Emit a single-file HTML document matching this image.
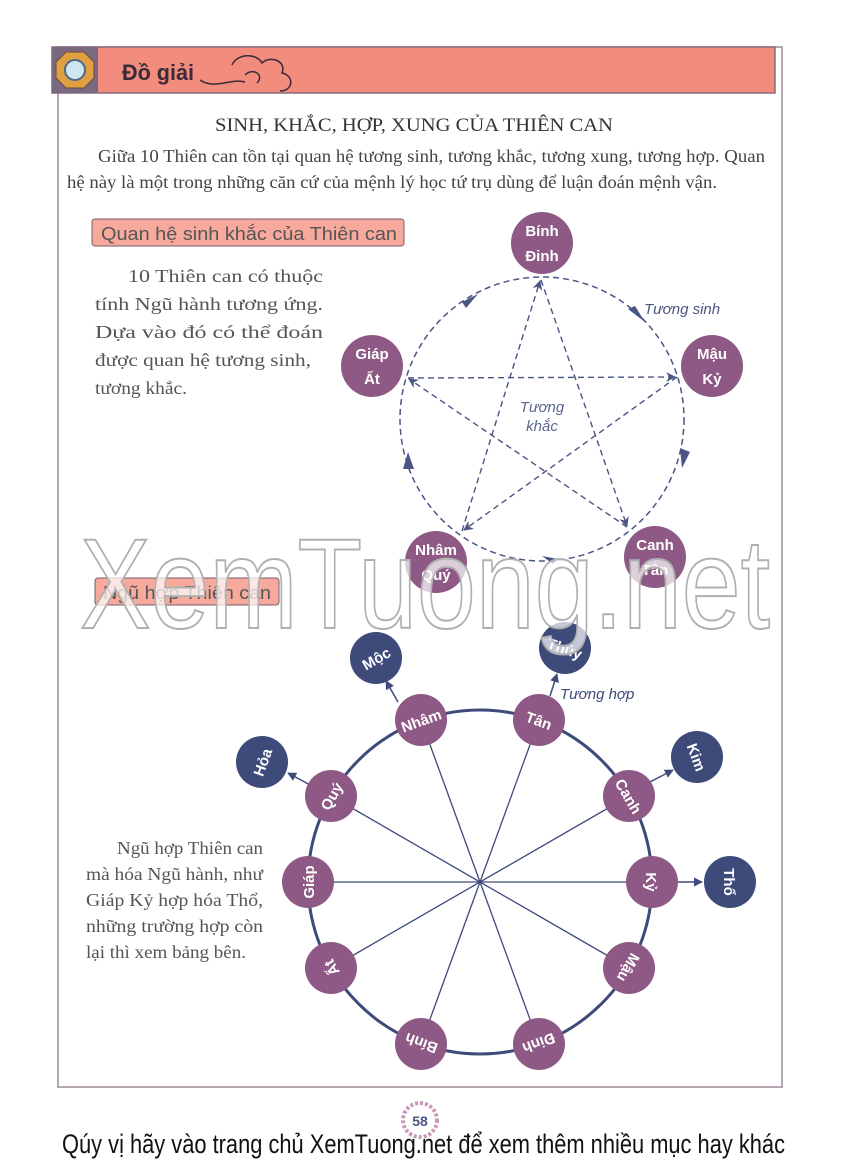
<!DOCTYPE html>
<html><head><meta charset="utf-8"><style>
html,body{margin:0;padding:0;background:#fff;}
svg{display:block;}
.serif{font-family:"Liberation Serif",serif;}
.sans{font-family:"Liberation Sans",sans-serif;}
.nd{font-family:"Liberation Sans Narrow","Liberation Sans",sans-serif;font-weight:bold;fill:#fff;font-size:15px;text-anchor:middle;}
</style></head><body>
<svg width="850" height="1170" viewBox="0 0 850 1170" xmlns="http://www.w3.org/2000/svg">
<defs>
<marker id="ar" viewBox="0 0 10 10" refX="9" refY="5" markerWidth="7" markerHeight="7" orient="auto"><path d="M0,0 L10,5 L0,10 L3,5 z" fill="#4a5585"/></marker>
<marker id="ar2" viewBox="0 0 10 10" refX="9" refY="5" markerWidth="6" markerHeight="6" orient="auto"><path d="M0,0 L10,5 L0,10 z" fill="#3d4a7a"/></marker>
</defs>
<rect x="58" y="47" width="724" height="1040" fill="none" stroke="#9a8a9a" stroke-width="1.5"/>
<rect x="52" y="47" width="723" height="46" fill="#f28c7c" stroke="#8a6a7a" stroke-width="1.5"/>
<rect x="52" y="47" width="46" height="46" fill="#7a6a80"/>
<polygon points="66,52 84,52 94,62 94,78 84,88 66,88 56,78 56,62" fill="#e0a040" stroke="#6a4a40"/>
<circle cx="75" cy="70" r="10" fill="#cfe6ee" stroke="#4a6a8a" stroke-width="2"/>
<text x="122" y="80" font-weight="bold" font-size="22" fill="#3a2a3a" font-family="Liberation Sans Narrow, Liberation Sans, sans-serif" textLength="72" lengthAdjust="spacingAndGlyphs">Đồ giải</text>
<path d="M200,80 C215,90 230,78 245,82 M232,65 c5,-12 25,-12 30,-2 c8,-8 25,-2 20,10 c12,2 12,18 -2,18 M245,75 c8,-8 20,0 12,8" fill="none" stroke="#3a2a3a" stroke-width="1.5"/>
<text x="414" y="131" class="serif" font-size="19" fill="#333" text-anchor="middle" textLength="398" lengthAdjust="spacingAndGlyphs">SINH, KHẮC, HỢP, XUNG CỦA THIÊN CAN</text>
<text x="98" y="162" class="serif" font-size="18" fill="#444" textLength="667" lengthAdjust="spacingAndGlyphs">Giữa 10 Thiên can tồn tại quan hệ tương sinh, tương khắc, tương xung, tương hợp. Quan</text>
<text x="67" y="188" class="serif" font-size="18" fill="#444" textLength="650" lengthAdjust="spacingAndGlyphs">hệ này là một trong những căn cứ của mệnh lý học tứ trụ dùng để luận đoán mệnh vận.</text>
<rect x="92" y="219" width="312" height="27" rx="3" fill="#f7a99c" stroke="#7a5a6a" stroke-width="1"/>
<text x="101" y="240" class="sans" font-size="18" fill="#555" textLength="296" lengthAdjust="spacingAndGlyphs">Quan hệ sinh khắc của Thiên can</text>
<g class="serif" font-size="18" fill="#555">
<text x="128" y="282" textLength="195" lengthAdjust="spacingAndGlyphs">10 Thiên can có thuộc</text>
<text x="95" y="310" textLength="228" lengthAdjust="spacingAndGlyphs">tính Ngũ hành tương ứng.</text>
<text x="95" y="338" textLength="228" lengthAdjust="spacingAndGlyphs">Dựa vào đó có thể đoán</text>
<text x="95" y="366" textLength="216" lengthAdjust="spacingAndGlyphs">được quan hệ tương sinh,</text>
<text x="95" y="394" textLength="92" lengthAdjust="spacingAndGlyphs">tương khắc.</text>
</g>
<circle cx="542" cy="419" r="142" fill="none" stroke="#4a5585" stroke-width="1.5" stroke-dasharray="6,4"/>
<g stroke="#4a5585" stroke-width="1.4" stroke-dasharray="6,4" fill="none" marker-end="url(#ar)">
<line x1="541" y1="280" x2="627" y2="526"/>
<line x1="627" y1="527" x2="409" y2="379"/>
<line x1="408" y1="378" x2="675" y2="377"/>
<line x1="677" y1="377" x2="464" y2="530"/>
<line x1="462" y1="531" x2="540" y2="281"/>
</g>
<g fill="#4a5585">
<polygon points="462,302 478,294 466,308"/>
<polygon points="628,309 645,322 635,306"/>
<polygon points="680,448 690,452 682,468"/>
<polygon points="558,559 542,556 553,564"/>
<polygon points="403,469 408,452 414,469"/>
</g>
<text x="644" y="314" class="sans" font-style="italic" font-size="15" fill="#4a5585">Tương sinh</text>
<text x="542" y="412" class="sans" font-style="italic" font-size="15" fill="#5a6590" text-anchor="middle">Tương</text>
<text x="542" y="431" class="sans" font-style="italic" font-size="15" fill="#5a6590" text-anchor="middle">khắc</text>
<g fill="#8e5a85">
<circle cx="542" cy="243" r="31"/><circle cx="712" cy="366" r="31"/><circle cx="655" cy="557" r="31"/><circle cx="436" cy="562" r="31"/><circle cx="372" cy="366" r="31"/>
</g>
<g class="nd" font-size="16">
<text x="542" y="236">Bính</text><text x="542" y="261">Đinh</text>
<text x="712" y="359">Mậu</text><text x="712" y="384">Kỷ</text>
<text x="655" y="550">Canh</text><text x="655" y="575">Tân</text>
<text x="436" y="555">Nhâm</text><text x="436" y="580">Quý</text>
<text x="372" y="359">Giáp</text><text x="372" y="384">Ất</text>
</g>
<rect x="95" y="578" width="184" height="27" rx="3" fill="#f7a99c" stroke="#7a5a6a" stroke-width="1"/>
<text x="103" y="599" class="sans" font-size="18" fill="#555" textLength="168" lengthAdjust="spacingAndGlyphs">Ngũ hợp Thiên can</text>
<circle cx="480" cy="882" r="172" fill="none" stroke="#3d4a7a" stroke-width="3"/>
<g stroke="#3d4a7a" stroke-width="1.3">
<line x1="421" y1="720" x2="539" y2="1044"/>
<line x1="539" y1="720" x2="421" y2="1044"/>
<line x1="629" y1="796" x2="331" y2="968"/>
<line x1="652" y1="882" x2="308" y2="882"/>
<line x1="331" y1="796" x2="629" y2="968"/>
</g>
<g stroke="#3d4a7a" stroke-width="1.5" marker-end="url(#ar2)">
<line x1="398" y1="702" x2="386" y2="681"/>
<line x1="312" y1="786" x2="288" y2="773"/>
<line x1="550" y1="696" x2="557" y2="674"/>
<line x1="650" y1="782" x2="673" y2="770"/>
<line x1="676" y1="882" x2="702" y2="882"/>
</g>
<text x="560" y="699" class="sans" font-style="italic" font-size="15" fill="#3d4a7a">Tương hợp</text>
<g fill="#3d4a7a">
<circle cx="376" cy="658" r="26"/><circle cx="565" cy="648" r="26"/><circle cx="697" cy="757" r="26"/><circle cx="730" cy="882" r="26"/><circle cx="262" cy="762" r="26"/>
</g>
<g class="nd" font-size="16">
<text transform="translate(376,658) rotate(-30)" y="6">Mộc</text>
<text transform="translate(565,648) rotate(20)" y="6">Thủy</text>
<text transform="translate(697,757) rotate(70)" y="6">Kim</text>
<text transform="translate(730,882) rotate(90)" y="6">Thổ</text>
<text transform="translate(262,762) rotate(-70)" y="6">Hỏa</text>
</g>
<g fill="#8e5a85">
<circle cx="539" cy="720" r="26"/><circle cx="629" cy="796" r="26"/><circle cx="652" cy="882" r="26"/><circle cx="629" cy="968" r="26"/><circle cx="539" cy="1044" r="26"/>
<circle cx="421" cy="1044" r="26"/><circle cx="331" cy="968" r="26"/><circle cx="308" cy="882" r="26"/><circle cx="331" cy="796" r="26"/><circle cx="421" cy="720" r="26"/>
</g>
<g class="nd" font-size="17">
<text transform="translate(539,720) rotate(20)" y="6">Tân</text>
<text transform="translate(629,796) rotate(60)" y="6">Canh</text>
<text transform="translate(652,882) rotate(90)" y="6">Kỷ</text>
<text transform="translate(629,968) rotate(120)" y="6">Mậu</text>
<text transform="translate(539,1044) rotate(160)" y="6">Đinh</text>
<text transform="translate(421,1044) rotate(200)" y="6">Bính</text>
<text transform="translate(331,968) rotate(240)" y="6">Ất</text>
<text transform="translate(308,882) rotate(270)" y="6">Giáp</text>
<text transform="translate(331,796) rotate(300)" y="6">Quý</text>
<text transform="translate(421,720) rotate(340)" y="6">Nhâm</text>
</g>
<g class="serif" font-size="18" fill="#555">
<text x="117" y="854" textLength="146" lengthAdjust="spacingAndGlyphs">Ngũ hợp Thiên can</text>
<text x="86" y="880" textLength="177" lengthAdjust="spacingAndGlyphs">mà hóa Ngũ hành, như</text>
<text x="86" y="906" textLength="177" lengthAdjust="spacingAndGlyphs">Giáp Kỷ hợp hóa Thổ,</text>
<text x="86" y="932" textLength="177" lengthAdjust="spacingAndGlyphs">những trường hợp còn</text>
<text x="86" y="958" textLength="160" lengthAdjust="spacingAndGlyphs">lại thì xem bảng bên.</text>
</g>
<text x="80" y="628" font-family="Liberation Sans, sans-serif" font-size="128" fill="rgba(255,255,255,0.7)" stroke="#b0b0b0" stroke-width="2" textLength="690" lengthAdjust="spacingAndGlyphs">XemTuong.net</text>
<circle cx="420" cy="1120" r="17" fill="#fff" stroke="#c89ab8" stroke-width="4" stroke-dasharray="3,2"/>
<text x="420" y="1126" text-anchor="middle" font-family="Liberation Sans Narrow, Liberation Sans, sans-serif" font-weight="bold" font-size="14" fill="#4a5585">58</text>
<text x="62" y="1153" font-family="Liberation Sans Narrow, Liberation Sans, sans-serif" font-size="27" fill="#111" textLength="723" lengthAdjust="spacingAndGlyphs">Qúy vị hãy vào trang chủ XemTuong.net để xem thêm nhiều mục hay khác</text>
</svg>
</body></html>
